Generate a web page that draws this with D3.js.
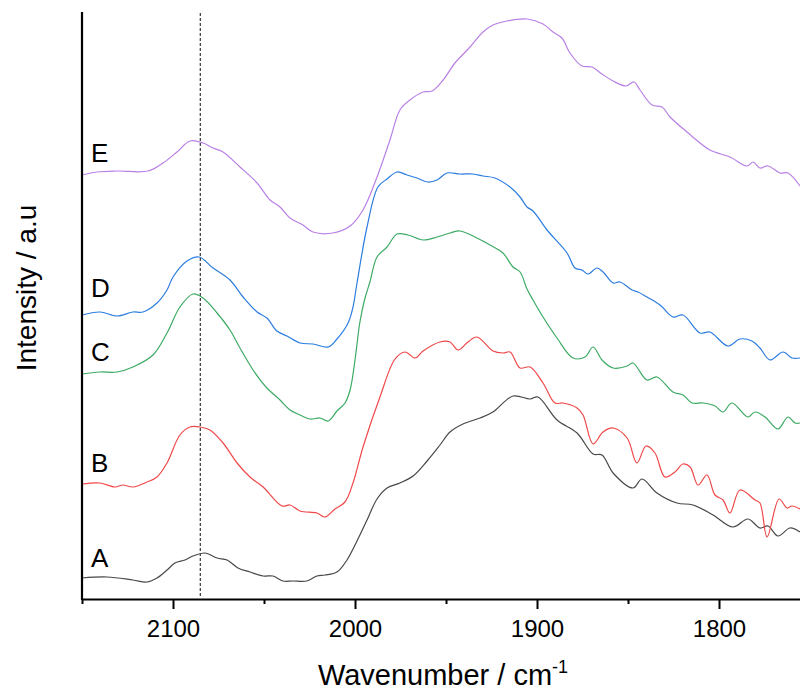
<!DOCTYPE html>
<html>
<head>
<meta charset="utf-8">
<script src="https://cdn.jsdelivr.net/npm/d3@7"></script>
<style>
  html, body { margin: 0; padding: 0; background: #fff; }
  svg { display: block; font-family: "Liberation Sans", Arial, Helvetica, sans-serif; }
</style>
</head>
<body>
<svg id="chart" width="800" height="691"></svg>
<script>
// ---- data: [wavenumber (cm-1), intensity (a.u., offset spectra)] ----
const seriesA = [[2150,21],[2136.3,22],[2122,19],[2114.3,17],[2108.8,21],[2103.3,29],[2098.9,36],[2093.4,39],[2089,43],[2082.4,46],[2075.8,41],[2070.3,39],[2064.3,31],[2057.7,27],[2050.5,23],[2045.1,23],[2039.6,18],[2034.1,18],[2026.4,18],[2020.9,23],[2016.5,24],[2009.9,27],[2004.4,39],[1998.9,58],[1993.4,79],[1987.9,100],[1982.4,111],[1975.3,116],[1968.1,123],[1960.4,138],[1953.3,154],[1947.8,167],[1940.7,175],[1931.3,181],[1924.2,187],[1913.2,203],[1903.8,200],[1899.5,202],[1889,179],[1878,166],[1869.2,145],[1864.3,144],[1858.2,126],[1847.3,111],[1842.3,120],[1834.1,106],[1823.1,96],[1814.3,94],[1803.3,84],[1792.3,72],[1784.1,80],[1777.5,71],[1773.1,73],[1767.6,63],[1761,71],[1755.5,67]];
const seriesB = [[2150,115],[2140.1,116],[2131.9,112],[2127.5,114],[2122,112],[2114.3,117],[2108.8,122],[2103.3,136],[2096.2,164],[2090.7,172],[2085.2,172],[2079.7,169],[2072.5,156],[2064.8,136],[2057.7,122],[2050.5,112],[2040.1,93],[2035.7,94],[2030.2,88],[2020.9,86],[2016.5,82],[2011,90],[2005.5,97],[2001.1,116],[1995.6,152],[1986.3,202],[1978,240],[1972.5,247],[1967,241],[1962.6,248],[1953.3,257],[1947.8,257],[1943.4,249],[1937.9,257],[1933,262],[1924.2,248],[1918.7,246],[1914.8,247],[1909.3,231],[1903.8,232],[1896.7,216],[1890.1,196],[1885.7,196],[1878,191],[1874.7,184],[1869.2,155],[1863.7,167],[1858.2,171],[1850.5,161],[1845.1,136],[1840.1,153],[1835.2,146],[1829.7,122],[1824.2,127],[1819.8,135],[1815.9,132],[1811.5,114],[1806.6,124],[1802.2,104],[1797.8,99],[1794,86],[1788.5,109],[1780.2,99],[1777.5,96],[1773.6,62],[1767,100],[1762.6,91],[1759.9,93],[1755.5,90]];
const seriesC = [[2150,225],[2140.1,227],[2130.8,227],[2122,232],[2111,244],[2103.3,266],[2096.2,292],[2089,305],[2083.5,301],[2075.8,286],[2068.7,269],[2063.2,251],[2056,229],[2048.4,211],[2041.2,199],[2035.7,189],[2030.2,184],[2024.7,180],[2019.2,181],[2014.8,178],[2009.9,188],[2005.5,196],[2002.7,209],[2000,239],[1997.3,277],[1994.5,301],[1991.8,317],[1987.9,342],[1982.4,352],[1976.9,365],[1970.9,364],[1962.6,359],[1954.9,362],[1947.8,366],[1942.3,368],[1933,361],[1925.8,354],[1918.7,346],[1913.2,332],[1909.3,327],[1905.5,310],[1902.2,299],[1896.7,282],[1889,261],[1880.2,241],[1873.6,242],[1869.2,252],[1864.3,239],[1858.2,231],[1850.5,233],[1847.3,236],[1839.6,219],[1834.1,222],[1825.3,207],[1819.8,204],[1814.8,196],[1808.8,196],[1802.2,193],[1797.8,187],[1792.9,196],[1784.1,182],[1780.2,187],[1774.7,182],[1767.6,170],[1762.1,182],[1758.2,176],[1755.5,176]];
const seriesD = [[2150,284],[2140.1,287],[2130.8,283],[2122,287],[2116.5,287],[2108.8,296],[2103.3,309],[2100,322],[2092.3,338],[2085.7,342],[2078,331],[2068.7,319],[2061.5,302],[2053.8,287],[2048.4,281],[2042.9,268],[2037.4,263],[2030.2,256],[2023.1,255],[2014.8,252],[2009.9,260],[2003.8,276],[2001.1,292],[1998.9,316],[1993.4,372],[1987.4,412],[1982.4,420],[1976.9,427],[1971.4,424],[1965.9,421],[1959.9,417],[1954.9,419],[1949.5,426],[1942.3,425],[1935.2,425],[1929.7,423],[1923.1,421],[1914.8,412],[1909.3,402],[1905.5,392],[1902.2,388],[1894.5,369],[1883.5,346],[1879.1,331],[1875.3,329],[1872,325],[1867,331],[1863.7,327],[1858.2,316],[1854.4,317],[1847.8,309],[1844.5,307],[1839.6,302],[1832.4,294],[1825.3,282],[1819.8,284],[1810.4,266],[1805,267],[1795.1,253],[1788.5,260],[1781.9,258],[1777.5,251],[1772,239],[1764.8,247],[1759.9,241],[1755.5,241]];
const seriesE = [[2150,424],[2141.8,427],[2130.8,428],[2113.7,428],[2105.5,436],[2097.8,447],[2090.7,458],[2083.5,456],[2078,451],[2072.5,447],[2063.2,432],[2053.8,416],[2046.7,399],[2041.2,392],[2035.7,381],[2028.6,374],[2023.1,367],[2012.1,366],[2002.7,373],[1995.6,389],[1987.9,422],[1980.8,459],[1975.3,489],[1969.8,499],[1962.6,507],[1957.7,508],[1951.6,519],[1945.1,536],[1936.8,552],[1929.7,567],[1924.2,574],[1916.5,578],[1905.5,580],[1896.7,575],[1891.2,567],[1886.3,561],[1881.9,546],[1875.3,533],[1869.8,532],[1864.3,525],[1858.2,518],[1851.1,513],[1846.7,517],[1843.4,509],[1836.8,494],[1831.3,492],[1826.9,482],[1817.6,467],[1805,449],[1794,442],[1784.6,433],[1781.3,437],[1777.5,431],[1773.1,433],[1766.5,426],[1762.1,426],[1755.5,413]];

const seriesNames = ["A", "B", "C", "D", "E"];
const seriesData = [seriesA, seriesB, seriesC, seriesD, seriesE];
const seriesColors = ["#484848", "#f04848", "#3caa64", "#2c7de0", "#b981e6"];
const labelIntensity = [32, 127, 238, 302, 437];   // label baseline level (a.u.)
const labelWavenumber = 2145;
const markerWavenumber = 2085;

const xDomain = [2150, 1755.5];
const yDomain = [0, 587];
const majorTicks = [2100, 2000, 1900, 1800];
const minorTicks = [2150, 2050, 1950, 1850];
const xTitle = "Wavenumber / cm";
const xTitleSup = "-1";
const yTitle = "Intensity / a.u";

// ---- layout ----
const svg = d3.select("#chart");
const plotLeft = 82, plotRight = 800, plotTop = 12, plotBottom = 599;

const x = d3.scaleLinear().domain(xDomain).range([plotLeft, plotRight]);
const y = d3.scaleLinear().domain(yDomain).range([plotBottom, plotTop]);

// dashed marker line
svg.append("line")
  .attr("x1", x(markerWavenumber)).attr("x2", x(markerWavenumber))
  .attr("y1", plotTop + 1).attr("y2", plotBottom - 2)
  .attr("stroke", "#333").attr("stroke-width", 1.2)
  .attr("stroke-dasharray", "3,2");

// spectra
const line = d3.line()
  .x(d => x(d[0]))
  .y(d => y(d[1]))
  .curve(d3.curveCatmullRom.alpha(0.5));

svg.append("g").selectAll("path")
  .data(seriesData)
  .join("path")
  .attr("d", d => line(d))
  .attr("fill", "none")
  .attr("stroke", (d, i) => seriesColors[i])
  .attr("stroke-width", 1.2)
  .attr("stroke-linejoin", "round");

// labels
svg.append("g").selectAll("text")
  .data(seriesNames)
  .join("text")
  .attr("x", x(labelWavenumber))
  .attr("y", (d, i) => y(labelIntensity[i]))
  .attr("font-size", 26)
  .attr("fill", "#000")
  .text(d => d);

// bottom axis: minor ticks
svg.append("g")
  .attr("transform", `translate(0,${plotBottom})`)
  .call(d3.axisBottom(x).tickValues(minorTicks).tickSize(5).tickFormat(""))
  .call(g => g.select(".domain").remove())
  .call(g => g.selectAll("line").attr("stroke", "#000").attr("stroke-width", 2));

// bottom axis: major ticks + labels
const xAxis = svg.append("g")
  .attr("transform", `translate(0,${plotBottom})`)
  .call(d3.axisBottom(x).tickValues(majorTicks).tickSize(10).tickSizeOuter(0).tickFormat(d3.format("d")));
xAxis.select(".domain").attr("stroke", "#000").attr("stroke-width", 2.2);
xAxis.selectAll(".tick line").attr("stroke", "#000").attr("stroke-width", 2);
xAxis.selectAll(".tick text")
  .attr("y", 38).attr("dy", null)
  .attr("font-size", 24)
  .attr("font-family", "Liberation Sans, Arial, sans-serif")
  .attr("fill", "#000");

// left axis (line only)
svg.append("line")
  .attr("x1", plotLeft).attr("x2", plotLeft)
  .attr("y1", plotTop).attr("y2", plotBottom + 1)
  .attr("stroke", "#000").attr("stroke-width", 2.2);

// axis titles
const xt = svg.append("text")
  .attr("x", 443).attr("y", 685)
  .attr("text-anchor", "middle")
  .attr("font-size", 29)
  .attr("fill", "#000");
xt.append("tspan").text(xTitle);
xt.append("tspan").attr("dy", -12).attr("font-size", 18).text(xTitleSup);

svg.append("text")
  .attr("transform", "translate(36,288) rotate(-90)")
  .attr("text-anchor", "middle")
  .attr("font-size", 28)
  .attr("fill", "#000")
  .text(yTitle);
</script>
</body>
</html>
